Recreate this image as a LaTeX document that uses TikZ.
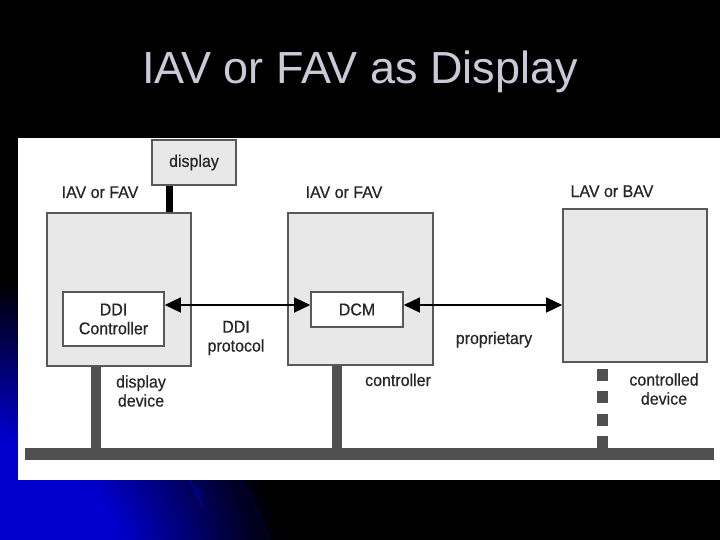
\documentclass[tikz,border=0pt]{standalone}
\usepackage{fontspec}
\setmainfont{Liberation Sans}
\newfontfamily\diagfont[FakeStretch=0.94, FakeBold=0.5]{Liberation Sans}
\usetikzlibrary{arrows.meta,positioning}

\definecolor{boxgray}{HTML}{E8E8E8}
\definecolor{edgegray}{HTML}{595959}
\definecolor{busgray}{HTML}{505050}
\definecolor{titlegray}{HTML}{C9C9D8}
\definecolor{slideblue}{HTML}{0000CC}

\pgfdeclareradialshading{slideglow}{\pgfpoint{0bp}{0bp}}{color(0bp)=(slideblue); color(12bp)=(slideblue); color(25bp)=(black); color(50bp)=(black)}

\tikzset{
	unit/.style={draw=edgegray, line width=1.6pt, fill=boxgray, inner sep=0pt},
	part/.style={draw=edgegray, line width=1.6pt, fill=white, inner sep=0pt, align=center, text=black!85, font=\diagfont\fontsize{17}{19}\selectfont},
	lbl/.style={inner sep=0pt, align=center, text=black!85, font=\diagfont\fontsize{17}{19}\selectfont},
	stub/.style={busgray, line width=10pt},
	link/.style={{Triangle[length=16pt,width=15pt]}-{Triangle[length=16pt,width=15pt]}, line width=1.4pt},
}

\begin{document}
\begin{tikzpicture}[x=1pt, y=-1pt]
		\useasboundingbox (0,0) rectangle (720,540);
		% slide background
		\fill[black] (0,0) rectangle (720,540);
		\begin{scope}
			\clip (0,0) rectangle (720,540);
			\fill[shading=slideglow] (-20,580) circle (300);
			\draw[blue!50!black, line width=2pt] (188,478) .. controls (196,492) .. (203,508);
			\fill[blue!50!black] (197,492) circle (4);
			\draw[blue!25!black, line width=1.5pt] (238,478) .. controls (255,505) .. (268,540);
		\end{scope}
		\fill[white] (18,138) rectangle (720,480);
	
		\node[anchor=base, text=titlegray, font=\fontsize{45}{50}\selectfont] (title) at (360,84) {IAV or FAV as Display};
	
		% devices
		\node[unit, minimum width=144pt, minimum height=153pt] (dev) at (119,289.5) {};
		\node[unit, minimum width=145pt, minimum height=152pt] (ctl) at (360.5,289) {};
		\node[unit, minimum width=144pt, minimum height=153pt] (lav) at (635,285.5) {};
		\node[unit, minimum width=84pt, minimum height=45pt, text=black!85, font=\diagfont\fontsize{17}{19}\selectfont] (disp) at (194,162.5) {display};
	
		\node[part, minimum width=101pt, minimum height=54pt] (ddi) at (113.5,319) {DDI\\Controller};
		\node[part, minimum width=92pt, minimum height=35pt] (dcm) at (357,309.5) {DCM};
	
		\node[lbl, anchor=base] (devname) at (100,198) {IAV or FAV};
		\node[lbl, anchor=base] (ctlname) at (344,198) {IAV or FAV};
		\node[lbl, anchor=base] (lavname) at (612,197) {LAV or BAV};
		\node[lbl] (ddiproto) at (236,338) {DDI\\protocol};
		\node[lbl, anchor=base] (prop) at (494,344) {proprietary};
		\node[lbl] (devrole) at (141,391) {display\\device};
		\node[lbl, anchor=base] (ctlrole) at (398,386) {controller};
		\node[lbl] (lavrole) at (664,389) {controlled\\device};
	
		% bus
		\node[fill=busgray, minimum width=689pt, minimum height=12pt, inner sep=0pt] (bus) at (369.5,454) {};
		\draw[stub] ([xshift=50pt]dev.south west) -- ([xshift=50pt]dev.south west |- bus.north);
		\draw[stub] ([xshift=50pt]ctl.south west) -- ([xshift=50pt]ctl.south west |- bus.north);
		\draw[stub, line width=11pt, dash pattern=on 12pt off 10.5pt, dash phase=16.5pt] ([xshift=40pt]lav.south west) -- ([xshift=40pt]lav.south west |- bus.north);
		\draw[black, line width=7pt] ([xshift=-24.5pt]disp.south) -- ([xshift=-24.5pt]disp.south |- dev.north);
	
		% protocols
		\coordinate (dcmin) at ([yshift=4.5pt]dcm.west);
		\coordinate (dcmout) at ([yshift=4.5pt]dcm.east);
		\draw[link] (ddi.east |- dcmin) -- (dcmin);
		\draw[link] (dcmout) -- (lav.west |- dcmout);
	\end{tikzpicture}
\end{document}
